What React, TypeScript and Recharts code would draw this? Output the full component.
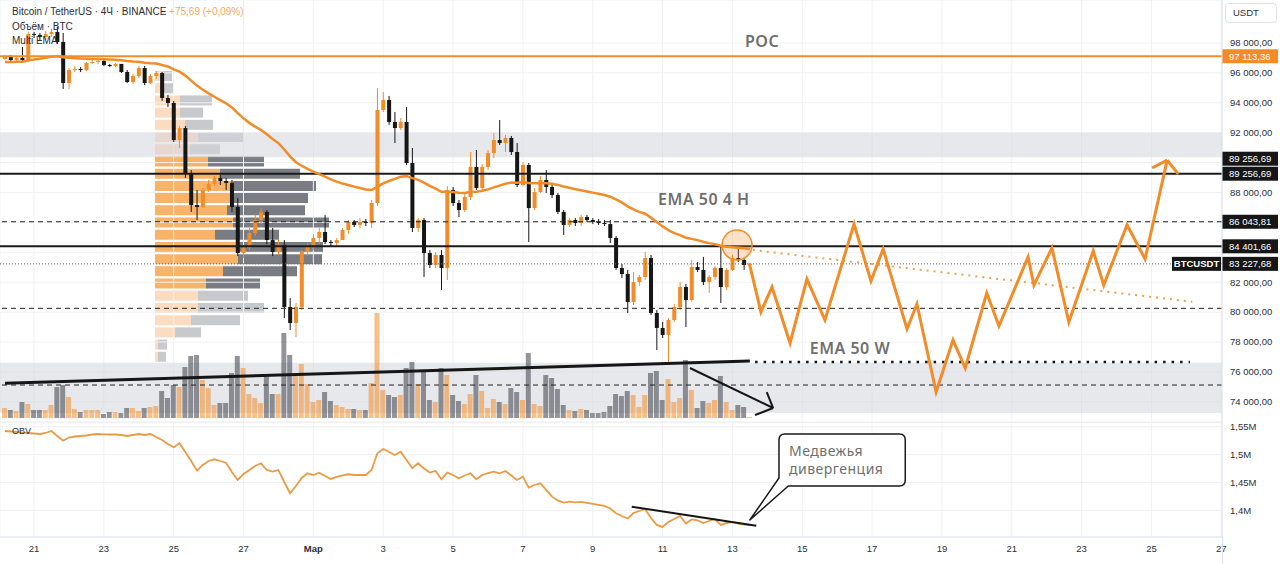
import React from 'react';
import {
  ComposedChart, BarChart, Bar, Line, XAxis, YAxis, CartesianGrid,
  ReferenceLine, ReferenceArea, ReferenceDot, Cell,
} from 'recharts';

const FONT = "'Liberation Sans', Arial, sans-serif";
const BIG_FONT = "'Noto Sans', 'DejaVu Sans', sans-serif";
const ORANGE = '#f28c28';
const BEAR = '#161616';

// ---------- time axis (4h bars; t = 0 at 21 Feb 00:00) ----------
const firstBarTime = -5;
const xDomain: [number, number] = [-5.84, 204.12];
const dateTicks = [0, 12, 24, 36, 48, 60, 72, 84, 96, 108, 120, 132, 144, 156, 168, 180, 192, 204];
const dateLabels = ['21', '23', '25', '27', 'Мар', '3', '5', '7', '9', '11', '13', '15', '17', '19', '21', '23', '25', '27'];

// ---------- BTCUSDT 4h candles ----------
const firstOpen = 96930;
const closes = [
  97060, 96860, 97000, 96860, 98600, 98540, 98400, 98600, 98740, 98070,
  95320, 96190, 96260, 96190, 96660, 96730, 96800, 96530, 96460, 96600,
  96060, 95390, 95790, 96330, 95320, 95790, 95990, 94320, 93990, 91510,
  92310, 89300, 87160, 87030, 88170, 88570, 88970, 88770, 88640, 87030,
  83950, 84290, 85290, 86160, 86700, 84820, 84020, 84490, 80340, 79270,
  80340, 84020, 84350, 84960, 85360, 84690, 84620, 84820, 85490, 86030,
  85830, 86030, 85960, 87300, 93520, 94190, 92720, 92310, 92720, 89970,
  85630, 86160, 83950, 83150, 83820, 82950, 88170, 87300, 86830, 87700,
  89710, 88300, 89710, 90640, 91510, 91310, 91650, 90710, 88500, 89840,
  86960, 88030, 88840, 88370, 87830, 86700, 85830, 86160, 85960, 86360,
  86160, 86030, 85960, 85890, 84960, 82950, 82550, 80680, 82010, 82350,
  83620, 79940, 78940, 78470, 79470, 80340, 81680, 80810, 83020, 82820,
  82010, 82350, 82950, 81680, 82820, 83620, 83480, 83150, 83228,
];
const highs = [
  97200, 97200, 97130, 97730, 98740, 98740, 98670, 98800, 98940, 99070,
  98670, 96330, 96460, 96390, 96730, 97000, 96930, 96860, 96600, 96660,
  96600, 96190, 95930, 96460, 96460, 95930, 96130, 96060, 94520, 94120,
  92450, 92450, 89500, 88170, 88300, 88840, 89100, 89170, 88970, 88840,
  87630, 84490, 85630, 86500, 86960, 86830, 85630, 84820, 84820, 80940,
  80610, 84150, 84620, 85220, 85630, 86500, 84820, 84960, 85630, 86160,
  86160, 86290, 86230, 87500, 94990, 94720, 94460, 93380, 92980, 93720,
  90980, 86290, 86290, 84150, 84020, 84150, 88430, 88370, 87500, 87900,
  90710, 90840, 89910, 90840, 91980, 92850, 91850, 91780, 91310, 90040,
  89970, 88300, 89100, 89500, 88500, 87970, 86830, 86290, 86290, 86500,
  86500, 86290, 86230, 86160, 86160, 85090, 83220, 82820, 82680, 82480,
  84020, 83820, 80140, 79340, 79600, 80540, 82010, 81880, 83480, 83350,
  83690, 82480, 83080, 84490, 82950, 83820, 84290, 83620, 83300,
];
const lows = [
  96860, 96800, 96800, 96800, 96800, 98330, 98200, 98200, 98400, 97930,
  94920, 94920, 96060, 96060, 96130, 96600, 96600, 96460, 96390, 96390,
  95990, 95320, 95260, 95660, 95190, 95260, 95590, 94120, 93720, 91380,
  90980, 88970, 86700, 86160, 86960, 88030, 88430, 88500, 88170, 86700,
  83750, 83620, 84150, 85090, 85890, 84550, 83750, 83820, 79600, 78800,
  78330, 80140, 83750, 84150, 84550, 84550, 84420, 84420, 84820, 85220,
  85690, 85630, 85760, 85630, 87100, 93380, 92520, 91310, 92180, 89840,
  85360, 85360, 82350, 82950, 82950, 81480, 82150, 87100, 86360, 86700,
  87500, 88170, 88030, 89500, 90310, 91180, 90710, 90510, 88370, 88440,
  84690, 86830, 87970, 87970, 87630, 86560, 85160, 85690, 85760, 85760,
  86030, 85890, 85830, 85760, 84620, 82820, 82280, 79940, 80470, 81750,
  82150, 79810, 77460, 78270, 76660, 79340, 80140, 79000, 80700, 82680,
  81810, 81280, 82150, 80610, 81480, 82750, 83350, 82820, 83100,
];
// volume (hundreds of BTC)
const volumes = [
  10, 8, 7, 16, 14, 8, 8, 8, 13, 31,
  33, 21, 9, 6, 8, 8, 8, 4, 6, 6,
  5, 10, 10, 7, 10, 11, 12, 27, 20, 33,
  31, 51, 62, 63, 38, 30, 13, 15, 15, 45,
  62, 50, 24, 20, 15, 43, 24, 24, 85, 63,
  42, 54, 34, 16, 18, 26, 17, 13, 11, 9,
  9, 8, 8, 35, 105, 28, 23, 21, 23, 50,
  56, 34, 46, 18, 16, 50, 43, 23, 17, 14,
  24, 43, 27, 10, 19, 16, 14, 30, 26, 18,
  65, 14, 12, 43, 40, 29, 13, 8, 7, 9,
  8, 5, 5, 6, 12, 24, 22, 27, 23, 11,
  23, 45, 47, 18, 39, 16, 20, 58, 28, 10,
  17, 15, 18, 42, 16, 8, 13, 11, 1,
];
// OBV (thousands of BTC)
const obvValues = [
  1542.3, 1541.4, 1540.5, 1539.2, 1538.7, 1537.8, 1536.9, 1538.7, 1542.3, 1533.3,
  1524.9, 1530.6, 1532.4, 1533.3, 1534.2, 1536.0, 1536.9, 1536.4, 1536.0, 1536.0,
  1535.1, 1533.3, 1535.1, 1536.9, 1535.1, 1536.9, 1531.5, 1526.2, 1519.0, 1513.1,
  1520.3, 1504.7, 1488.5, 1471.2, 1481.4, 1488.5, 1491.6, 1488.5, 1485.0, 1468.8,
  1454.5, 1465.2, 1472.4, 1479.6, 1484.4, 1472.4, 1469.4, 1472.4, 1450.9, 1430.7,
  1443.7, 1458.1, 1466.5, 1463.4, 1467.6, 1461.7, 1456.3, 1459.9, 1462.6, 1464.7,
  1463.4, 1463.4, 1463.4, 1472.4, 1502.3, 1510.0, 1504.7, 1499.3, 1505.2, 1490.3,
  1475.5, 1484.4, 1475.1, 1467.9, 1470.6, 1455.7, 1467.6, 1463.4, 1457.5, 1462.6,
  1466.5, 1455.7, 1463.4, 1467.0, 1469.4, 1466.5, 1470.6, 1462.6, 1454.5, 1460.4,
  1440.7, 1445.5, 1448.6, 1436.6, 1424.6, 1417.8, 1413.8, 1415.6, 1414.2, 1415.1,
  1413.3, 1411.5, 1409.7, 1407.9, 1403.4, 1394.8, 1390.0, 1385.5, 1395.3, 1398.9,
  1402.5, 1386.4, 1373.9, 1370.3, 1379.2, 1384.6, 1390.0, 1376.5, 1383.7, 1382.0,
  1377.4, 1381.0, 1384.6, 1373.9, 1377.4, 1379.2, 1376.5, 1374.7, 1373.9,
];
const emaSeed = 96730;
const emaLength = 50;

// ---------- price scale ----------
const priceDomain: [number, number] = [72650, 100876];
const priceTicks = [74000, 76000, 78000, 80000, 82000, 84000, 86000, 88000, 90000, 92000, 94000, 96000, 98000];
const hiddenPriceTicks = [84000, 86000, 90000];
const volumeDomain: [number, number] = [-4, 418];
const obvDomain: [number, number] = [1352.3, 1558.4];
const obvTicks = [1400, 1450, 1500, 1550];

// ---------- levels & drawings ----------
const pocPrice = 97113.36;
const solidLevels = [89256.69, 84401.66];
const boxedDashedLevel = 86043.81;
const dashedLevels = [80254, 75123];
const lastPrice = 83227.68;
const upperZone = [90355, 92000];
const lowerZone = [73250, 76610];
const volumeTrend = [{ x: -4.98, y: 75237 }, { x: 123.0, y: 76728 }];
const ema50WeekLine = [{ x: 123.9, y: 76662 }, { x: 198.6, y: 76662 }];
const volumeArrow = [{ x: 112.7, y: 76261 }, { x: 127.0, y: 73585 }];
const volumeArrowHeadA = [{ x: 125.9, y: 74655 }, { x: 127.0, y: 73585 }];
const volumeArrowHeadB = [{ x: 123.9, y: 73117 }, { x: 127.0, y: 73585 }];
const emaProjection = [{ x: 123.5, y: 84153 }, { x: 199.0, y: 80695 }];
const forecastTimes = [122.9, 124.9, 126.8, 129.9, 132.8, 135.9, 140.9, 143.8, 145.9, 150.0, 151.7, 155.0, 157.9, 160.0, 163.7, 165.8, 170.8, 171.8, 174.9, 177.8, 182.0, 183.8, 187.8, 190.9, 194.7];
const forecastPrices = [83280, 80010, 81680, 77930, 82210, 79470, 85890, 82080, 84220, 78870, 80540, 74660, 78130, 76260, 81280, 79070, 83690, 81810, 84290, 79340, 84090, 81810, 85830, 83550, 90170];
const arrowHeadLeft = [{ x: 192.1, y: 89640 }, { x: 194.7, y: 90170 }];
const arrowHeadRight = [{ x: 194.7, y: 90170 }, { x: 196.6, y: 89240 }];
const touchPoint = { t: 120.8, p: 84488 };
const chartTexts = [
  { t: 125.1, p: 98134, text: 'POC' },
  { t: 115.1, p: 87565, text: 'EMA 50 4 H' },
  { t: 140.2, p: 77598, text: 'EMA 50 W' },
];
const divergenceLine = [{ x: 102.7, y: 1406.6 }, { x: 124.1, y: 1372.6 }];
const calloutBox = { t1: 128.0, t2: 149.7, v1: 1443.7, v2: 1536.9 };
const calloutTail = { a: { t: 128.4, v: 1458.1 }, b: { t: 129.6, v: 1443.7 }, tip: { t: 123.0, v: 1382.8 } };
const calloutLines = ['Медвежья', 'дивергенция'];

// ---------- visible-range volume profile ----------
const profilePrices = [95790, 94970, 94150, 93340, 92520, 91700, 90880, 90070, 89250, 88440, 87620, 86800, 85990, 85170, 84350, 83530, 82720, 81900, 81080, 80270, 79450, 78640, 77820, 77000];
const profileUp = [8, 8, 25, 25, 30, 43, 35, 53, 65, 78, 75, 72, 78, 60, 82, 83, 68, 51, 43, 43, 36, 20, 3, 3];
const profileDown = [9, 10, 32, 23, 28, 45, 30, 56, 80, 83, 78, 78, 96, 64, 86, 84, 74, 54, 50, 66, 49, 26, 9, 8];
const valueAreaHigh = 90500;
const valueAreaLow = 81500;

// ---------- derived tables ----------
const alpha = 2 / (emaLength + 1);
let emaPrev = emaSeed;
const bars = closes.map((c, i) => {
  const o = i === 0 ? firstOpen : closes[i - 1];
  const ema = i === 0 ? emaSeed : emaPrev + alpha * (c - emaPrev);
  emaPrev = ema;
  return { t: firstBarTime + i, o, h: highs[i], l: lows[i], c, v: volumes[i], obv: obvValues[i], ema };
});
const forecast = forecastTimes.map((t, i) => ({ t, p: forecastPrices[i] }));
const profileRows = profilePrices.map((p, i) => ({
  p, up: profileUp[i], down: profileDown[i], inVA: p <= valueAreaHigh && p >= valueAreaLow,
}));

const fmtPrice = (v: number) => {
  const [ip, fp] = v.toFixed(2).split('.');
  return ip.replace(/\B(?=(\d{3})+(?!\d))/g, '\u00a0') + ',' + fp;
};
const fmtObv = (v: number) => (v / 1000).toString().replace('.', ',') + 'M';

// ---------- small renderers ----------
const Candle = (props: any) => {
  const { x, y, width, height, payload } = props;
  if (!payload || height == null || isNaN(height)) return <g />;
  const { o, c, h, l } = payload;
  const color = c >= o ? ORANGE : BEAR;
  const k = h === l ? 0 : height / (h - l);
  const yo = y + (h - o) * k;
  const yc = y + (h - c) * k;
  const top = Math.min(yo, yc);
  const bh = Math.max(1, Math.abs(yo - yc));
  const cx = x + width / 2;
  return (
    <g>
      <line x1={cx} x2={cx} y1={y} y2={y + height} stroke={color} strokeWidth={1} />
      <rect x={cx - 2} y={top} width={4} height={bh} fill={color} />
    </g>
  );
};

const PriceTick = (props: any) => {
  const { x, y, payload } = props;
  if (hiddenPriceTicks.includes(payload.value)) return <g />;
  return (
    <text x={x} y={y} dy={3.3} fontSize={9.5} fill="#2a2e39" fontFamily={FONT} textAnchor="start">
      {fmtPrice(payload.value)}
    </text>
  );
};

const ObvTick = (props: any) => {
  const { x, y, payload } = props;
  return (
    <text x={x} y={y} dy={3.3} fontSize={9.5} fill="#2a2e39" fontFamily={FONT} textAnchor="start">
      {fmtObv(payload.value)}
    </text>
  );
};

const DateTick = (props: any) => {
  const { x, y, payload } = props;
  const label = dateLabels[dateTicks.indexOf(payload.value)];
  return (
    <text x={x} y={y + 7} textAnchor="middle" fontSize={9.5} fill="#2a2e39" fontFamily={FONT}
      fontWeight={label === 'Мар' ? 700 : 400}>
      {label}
    </text>
  );
};

const axisBox = (text: string, bg: string, dys: number[] = [0], tag?: string) => (props: any) => {
  const vb = props.viewBox;
  const x = vb.x + vb.width;
  return (
    <g>
      {dys.map((dy) => (
        <g key={dy}>
          <rect x={x} y={vb.y + dy - 7} width={56} height={14} fill={bg} />
          <text x={x + 7} y={vb.y + dy + 3.5} fill="#ffffff" fontSize={9.5} fontFamily={FONT}>{text}</text>
        </g>
      ))}
      {tag ? (
        <g>
          <rect x={x - 50} y={vb.y - 7} width={49} height={14} fill={BEAR} />
          <text x={x - 25.5} y={vb.y + 3.5} fill="#ffffff" fontSize={9.5} fontWeight={700} textAnchor="middle" fontFamily={FONT}>{tag}</text>
        </g>
      ) : null}
    </g>
  );
};

const textLabel = (text: string) => (props: any) => {
  const vb = props.viewBox;
  return (
    <text x={vb.x + vb.width / 2} y={vb.y + vb.height / 2} textAnchor="middle" dominantBaseline="central"
      fontSize={16} fontWeight={600} fill="#6f6f6f" fontFamily={BIG_FONT} letterSpacing={0.5}>
      {text}
    </text>
  );
};

const CalloutShape = (props: any) => {
  const { x, y, width, height } = props;
  if (x == null || isNaN(x)) return <g />;
  const t0 = calloutTail.tip.t, t1 = calloutBox.t2, v0 = calloutTail.tip.v, v1 = calloutBox.v2;
  const px = (t: number) => x + ((t - t0) / (t1 - t0)) * width;
  const py = (v: number) => y + ((v1 - v) / (v1 - v0)) * height;
  const L = px(calloutBox.t1), R = px(calloutBox.t2), T = py(calloutBox.v2), B = py(calloutBox.v1);
  const r = 6;
  const aY = py(calloutTail.a.v);
  const bX = px(calloutTail.b.t);
  const tipX = px(calloutTail.tip.t), tipY = py(calloutTail.tip.v);
  const d = `M ${L + r} ${T} H ${R - r} Q ${R} ${T} ${R} ${T + r} V ${B - r} Q ${R} ${B} ${R - r} ${B} H ${bX} L ${tipX} ${tipY} L ${L} ${aY} V ${T + r} Q ${L} ${T} ${L + r} ${T} Z`;
  return (
    <g>
      <path d={d} fill="#ffffff" stroke="#1a1a1a" strokeWidth={1.5} strokeLinejoin="round" />
      {calloutLines.map((s, i) => (
        <text key={s} x={L + 10} y={T + 22 + i * 18.5} fontSize={14} fill="#6f6f6f" fontFamily={BIG_FONT} letterSpacing={0.5}>{s}</text>
      ))}
    </g>
  );
};

// ---------- panes ----------
const PricePane = () => (
  <ComposedChart width={1280} height={422} data={bars} margin={{ top: 0, right: 0, bottom: 0, left: 0 }}>
    <CartesianGrid stroke="#f0f1f4" xAxisId="x" yAxisId="p" />
    <XAxis xAxisId="x" dataKey="t" type="number" domain={xDomain} ticks={dateTicks} allowDataOverflow hide />
    <XAxis xAxisId="xv" dataKey="t" type="number" domain={xDomain} allowDataOverflow hide />
    <XAxis xAxisId="xf" dataKey="t" type="number" domain={xDomain} allowDataOverflow hide />
    <YAxis yAxisId="p" orientation="right" width={58} domain={priceDomain} ticks={priceTicks} interval={0}
      allowDataOverflow tickLine={false} axisLine={{ stroke: '#e0e3eb' }} tick={(p: any) => <PriceTick {...p} />} />
    <YAxis yAxisId="v" hide domain={volumeDomain} allowDataOverflow />

    <ReferenceArea xAxisId="x" yAxisId="p" y1={upperZone[0]} y2={upperZone[1]} fill="#d3d6dc" fillOpacity={0.55} stroke="none" ifOverflow="visible" />
    <ReferenceArea xAxisId="x" yAxisId="p" y1={lowerZone[0]} y2={lowerZone[1]} fill="#d3d6dc" fillOpacity={0.55} stroke="none" ifOverflow="visible" />

    <Bar xAxisId="xv" yAxisId="v" dataKey="v" barSize={5} isAnimationActive={false}>
      {bars.map((b, i) => (
        <Cell key={i} fill={b.c >= b.o ? ORANGE : '#4a4d55'} fillOpacity={b.c >= b.o ? 0.55 : 0.6} />
      ))}
    </Bar>

    {dashedLevels.map((lv) => (
      <ReferenceLine key={lv} xAxisId="x" yAxisId="p" y={lv} stroke="#222" strokeWidth={1} strokeDasharray="5 4" />
    ))}
    <ReferenceLine xAxisId="x" yAxisId="p" y={boxedDashedLevel} stroke="#222" strokeWidth={1} strokeDasharray="5 4"
      label={axisBox(fmtPrice(boxedDashedLevel), BEAR)} />
    <ReferenceLine xAxisId="x" yAxisId="p" y={lastPrice} stroke="#666" strokeWidth={1} strokeDasharray="1 2"
      label={axisBox(fmtPrice(lastPrice), BEAR, [0], 'BTCUSDT')} />
    <ReferenceLine xAxisId="x" yAxisId="p" y={solidLevels[0]} stroke="#1a1a1a" strokeWidth={2}
      label={axisBox(fmtPrice(solidLevels[0]), BEAR, [0, -15])} />
    <ReferenceLine xAxisId="x" yAxisId="p" y={solidLevels[1]} stroke="#1a1a1a" strokeWidth={2}
      label={axisBox(fmtPrice(solidLevels[1]), BEAR)} />
    <ReferenceLine xAxisId="x" yAxisId="p" y={pocPrice} stroke={ORANGE} strokeWidth={2}
      label={axisBox(fmtPrice(pocPrice), ORANGE)} />

    <ReferenceLine xAxisId="x" yAxisId="p" segment={volumeTrend} stroke="#161616" strokeWidth={3} ifOverflow="visible" />
    <ReferenceLine xAxisId="x" yAxisId="p" segment={ema50WeekLine} stroke="#161616" strokeWidth={2.5} strokeDasharray="2.5 6" ifOverflow="visible" />
    <ReferenceLine xAxisId="x" yAxisId="p" segment={volumeArrow} stroke="#161616" strokeWidth={2} ifOverflow="visible" />
    <ReferenceLine xAxisId="x" yAxisId="p" segment={volumeArrowHeadA} stroke="#161616" strokeWidth={2} ifOverflow="visible" />
    <ReferenceLine xAxisId="x" yAxisId="p" segment={volumeArrowHeadB} stroke="#161616" strokeWidth={2} ifOverflow="visible" />
    <ReferenceLine xAxisId="x" yAxisId="p" segment={emaProjection} stroke="#f2a04e" strokeWidth={2} strokeDasharray="2 5" ifOverflow="visible" />

    <Line xAxisId="x" yAxisId="p" dataKey="ema" stroke={ORANGE} strokeWidth={2.5} dot={false} activeDot={false} isAnimationActive={false} />
    <Bar xAxisId="x" yAxisId="p" dataKey={(d: any) => [d.l, d.h]} barSize={4} shape={(p: any) => <Candle {...p} />} isAnimationActive={false} />

    <Line xAxisId="xf" yAxisId="p" data={forecast} dataKey="p" stroke={ORANGE} strokeWidth={3} dot={false} activeDot={false} strokeLinejoin="miter" isAnimationActive={false} />
    <ReferenceLine xAxisId="x" yAxisId="p" segment={arrowHeadLeft} stroke={ORANGE} strokeWidth={3} ifOverflow="visible" />
    <ReferenceLine xAxisId="x" yAxisId="p" segment={arrowHeadRight} stroke={ORANGE} strokeWidth={3} ifOverflow="visible" />

    <ReferenceDot xAxisId="x" yAxisId="p" x={touchPoint.t} y={touchPoint.p} r={15} fill={ORANGE} fillOpacity={0.25} stroke={ORANGE} strokeWidth={1.5} />
    {chartTexts.map((ct) => (
      <ReferenceDot key={ct.text} xAxisId="x" yAxisId="p" x={ct.t} y={ct.p} r={1} fill="none" stroke="none" label={textLabel(ct.text)} />
    ))}
  </ComposedChart>
);

const ObvPane = () => (
  <ComposedChart width={1280} height={142} data={bars} margin={{ top: 0, right: 0, bottom: 0, left: 0 }}>
    <CartesianGrid stroke="#f0f1f4" />
    <XAxis dataKey="t" type="number" domain={xDomain} ticks={dateTicks} interval={0} allowDataOverflow height={27}
      tickLine={false} axisLine={{ stroke: '#e0e3eb' }} tick={(p: any) => <DateTick {...p} />} />
    <YAxis orientation="right" width={58} domain={obvDomain} ticks={obvTicks} interval={0} allowDataOverflow
      tickLine={false} axisLine={{ stroke: '#e0e3eb' }} tick={(p: any) => <ObvTick {...p} />} />
    <Line dataKey="obv" stroke="#ec9a44" strokeWidth={1.8} dot={false} activeDot={false} isAnimationActive={false} />
    <ReferenceLine segment={divergenceLine} stroke="#161616" strokeWidth={2} ifOverflow="visible" />
    <ReferenceArea x1={calloutTail.tip.t} x2={calloutBox.t2} y1={calloutTail.tip.v} y2={calloutBox.v2}
      ifOverflow="visible" shape={(p: any) => <CalloutShape {...p} />} />
  </ComposedChart>
);

const ProfilePane = () => (
  <BarChart width={200} height={293} data={profileRows} layout="vertical" barCategoryGap={1}
    margin={{ top: 0, right: 0, bottom: 0, left: 0 }}>
    <XAxis type="number" domain={[0, 200]} hide />
    <YAxis type="category" dataKey="p" hide />
    <Bar dataKey="up" stackId="vp" isAnimationActive={false}>
      {profileRows.map((r, i) => <Cell key={i} fill={r.inVA ? '#f7b469' : '#fcdcc0'} />)}
    </Bar>
    <Bar dataKey="down" stackId="vp" isAnimationActive={false}>
      {profileRows.map((r, i) => <Cell key={i} fill={r.inVA ? '#797c83' : '#c8c9cc'} />)}
    </Bar>
  </BarChart>
);

export default function App() {
  return (
    <div style={{ position: 'fixed', left: 0, top: 0, width: 1280, height: 564, background: '#ffffff', overflow: 'hidden' }}>
      <div style={{ position: 'absolute', left: 0, top: 422 }}><ObvPane /></div>
      <div style={{ position: 'absolute', left: 155, top: 70 }}><ProfilePane /></div>
      <div style={{ position: 'absolute', left: 0, top: 0 }}><PricePane /></div>
      <div style={{ position: 'absolute', left: 0, top: 422, width: 1222, height: 1, background: '#eceef2' }} />
      <div style={{ position: 'absolute', left: 1222, top: 537, width: 1, height: 27, background: '#e0e3eb' }} />
      <div style={{ position: 'absolute', left: 12, top: 5, fontSize: 10, lineHeight: '14.5px', color: '#2a2e39', fontFamily: FONT, whiteSpace: 'nowrap' }}>
        <div>Bitcoin / TetherUS · 4Ч · BINANCE <span style={{ color: '#f2a968' }}>+75,69 (+0,09%)</span></div>
        <div>Объём · BTC</div>
        <div>Multi EMA</div>
      </div>
      <div style={{ position: 'absolute', left: 12, top: 426, fontSize: 9, color: '#2a2e39', fontFamily: FONT }}>OBV</div>
      <div style={{ position: 'absolute', left: 1225, top: 3, width: 52, height: 20, border: '1px solid #e0e3eb', borderRadius: 4, boxSizing: 'border-box', fontSize: 9.5, lineHeight: '18px', paddingLeft: 7, color: '#2a2e39', fontFamily: FONT }}>USDT</div>
    </div>
  );
}
